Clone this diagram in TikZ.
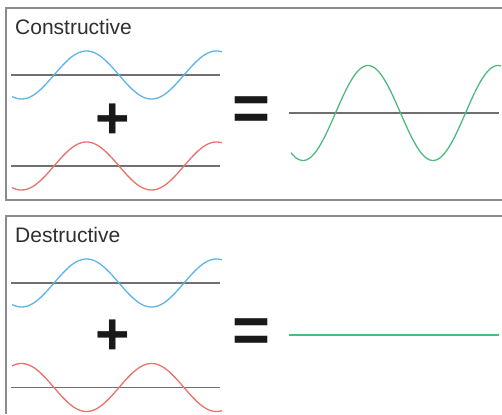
\documentclass[tikz,border=0pt]{standalone}
\usepackage{fontspec}
\setmainfont{Liberation Sans}
\definecolor{wblue}{HTML}{5DB6E8}
\definecolor{wred}{HTML}{EA726C}
\definecolor{wgreen}{HTML}{4DBA7E}
\definecolor{axisgray}{HTML}{707070}
\definecolor{framegray}{HTML}{8C8C8C}
\definecolor{txtgray}{HTML}{303030}
\begin{document}
\begin{tikzpicture}[x=1pt,y=-1pt,
  frame/.style={draw=framegray,line width=2pt},
  axisline/.style={draw=axisgray,line width=1.6pt},
  wave/.style={line width=1.3pt,samples=160},
  title/.style={anchor=base west,inner sep=0,text=txtgray,font=\fontsize{21}{21}\selectfont},
  sym/.style={anchor=base,inner sep=0,text=black!90,font=\bfseries\fontsize{59}{59}\selectfont},
  eqsym/.style={anchor=base,inner sep=0,text=black!90,font=\bfseries\fontsize{65}{65}\selectfont}]
\useasboundingbox (0,0) rectangle (502,414);
\fill[white] (0,0) rectangle (502,414);
% frames
\draw[frame] (502,8.5) -- (5.5,8.5) -- (5.5,200) -- (502,200);
\draw[frame] (502,216) -- (5.5,216) -- (5.5,414);
% titles
\node[title] (t1) at (15,35) {Constructive};
\node[title] (t2) at (15,242.7) {Destructive};
% top panel
\draw[axisline] (11,75) -- (220,75);
\draw[axisline] (11,166) -- (220,166);
\draw[axisline] (289,113) -- (499,113);
\draw[wave,wblue] plot[domain=12:222] (\x,{75+24*cos(2.76923*(\x-21.5))});
\draw[wave,wred] plot[domain=12:222] (\x,{166+24*cos(2.76923*(\x-21.5))});
\draw[wave,wgreen] plot[domain=291:501] (\x,{113+47.5*cos(2.76923*(\x-303))});
\node[sym] (p1) at (112.5,139) {+};
\node[eqsym] (e1) at (251.5,130.5) {=};
% bottom panel
\draw[axisline] (11,283) -- (220,283);
\draw[axisline] (11,387.5) -- (220,387.5);
\draw[wave,wblue] plot[domain=12:222] (\x,{283+24*cos(2.76923*(\x-21.5))});
\draw[wave,wred] plot[domain=12:222] (\x,{387.5-24*cos(2.76923*(\x-21.5))});
\draw[wgreen,line width=2.4pt] (289,334.7) -- (499,334.7);
\node[sym] (p2) at (112.5,354) {+};
\node[eqsym] (e2) at (251.5,352) {=};
\end{tikzpicture}
\end{document}
